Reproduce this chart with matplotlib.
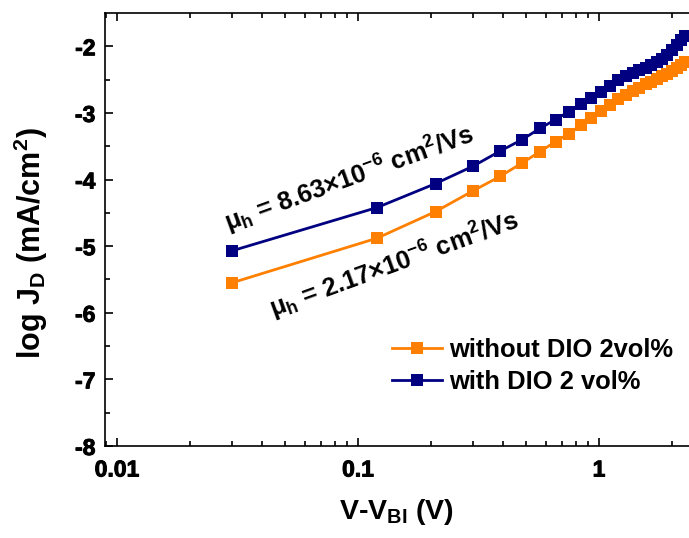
import numpy as np
import matplotlib
matplotlib.use("Agg")
import matplotlib.pyplot as plt
import matplotlib.patheffects as pe

# ---- data ----
voltage = [0.03, 0.12, 0.21, 0.30, 0.39, 0.48, 0.57, 0.66, 0.75, 0.84, 0.93,
           1.02, 1.11, 1.20, 1.29, 1.38, 1.47, 1.56, 1.65, 1.74, 1.83, 1.92,
           2.01, 2.10, 2.19, 2.28]
logj_without = [-5.55, -4.88, -4.48, -4.17, -3.95, -3.75, -3.58, -3.43, -3.31,
                -3.18, -3.07, -2.97, -2.88, -2.79, -2.73, -2.67, -2.62, -2.57,
                -2.53, -2.49, -2.45, -2.41, -2.37, -2.32, -2.28, -2.24]
logj_with = [-5.07, -4.42, -4.06, -3.80, -3.57, -3.40, -3.23, -3.10, -2.98,
             -2.87, -2.78, -2.69, -2.60, -2.51, -2.45, -2.40, -2.36, -2.32,
             -2.28, -2.24, -2.19, -2.13, -2.06, -1.98, -1.91, -1.85]
series_labels = ["without DIO 2vol%", "with DIO 2 vol%"]
annot_with = "μ$_\\mathrm{h}$ = 8.63×10$^\\mathrm{-6}$ cm$^\\mathrm{2}$/Vs"
annot_without = "μ$_\\mathrm{h}$ = 2.17×10$^\\mathrm{-6}$ cm$^\\mathrm{2}$/Vs"
yticks = [-8, -7, -6, -5, -4, -3, -2]
xticks = [0.01, 0.1, 1]
xtick_labels = ["0.01", "0.1", "1"]

plt.rcParams['font.family'] = ['Liberation Sans', 'DejaVu Sans']
plt.rcParams['font.weight'] = 'bold'
plt.rcParams['axes.unicode_minus'] = False
plt.rcParams['mathtext.fontset'] = 'custom'
plt.rcParams['mathtext.rm'] = 'Liberation Sans:bold'
plt.rcParams['mathtext.it'] = 'Liberation Sans:bold:italic'
plt.rcParams['mathtext.bf'] = 'Liberation Sans:bold'

c_orange = '#FF8000'
c_navy = '#000080'
thick = [pe.withStroke(linewidth=0.7, foreground='black')]

W, H = 689, 538
fig = plt.figure(figsize=(W / 100, H / 100), dpi=100)
ax_l, ax_b, ax_t = 105, 446, 13
ax = fig.add_axes([ax_l / W, 1 - ax_b / H, 1 - ax_l / W, (ax_b - ax_t) / H])

for x, y, color, label in [(voltage, logj_without, c_orange, series_labels[0]),
                           (voltage, logj_with, c_navy, series_labels[1])]:
    ax.plot(x, y, color=color, lw=2.0, marker='s', markersize=9,
            markeredgewidth=0, label=label, zorder=3)

ax.set_xscale('log')
ax.set_xlim(10 ** ((ax_l - 117) / 241 - 2), 10 ** ((W - 599) / 241))
ax.set_ylim(-8, -1.5)
ax.set_xticks(xticks)
ax.set_xticklabels(xtick_labels)
ax.set_yticks(yticks)
ax.set_yticks(np.arange(-7.5, -1.5, 1.0), minor=True)
ax.xaxis.set_minor_locator(matplotlib.ticker.LogLocator(base=10, subs=np.arange(2, 10)))
ax.xaxis.set_minor_formatter(matplotlib.ticker.NullFormatter())

for s in ['left', 'bottom', 'top']:
    ax.spines[s].set_linewidth(1.2)
ax.spines['right'].set_visible(False)
ax.tick_params(which='both', direction='in', top=True, right=False, width=1.2)
ax.tick_params(which='major', length=6, labelsize=16.5)
ax.tick_params(axis='y', which='major', pad=7)
ax.tick_params(axis='x', which='major', pad=9)
ax.tick_params(which='minor', length=3.5)
for lab in ax.get_xticklabels() + ax.get_yticklabels():
    lab.set_fontweight('bold')
    lab.set_path_effects(thick)

ax.set_xlabel("V-V$_\\mathrm{BI}$ (V)", fontsize=20.5, fontweight='bold')
ax.set_ylabel("log J$_\\mathrm{D}$ (mA/cm$^\\mathrm{2}$)", fontsize=22, fontweight='bold')
ax.xaxis.set_label_coords(0.5, (ax_b - 497) / (ax_b - ax_t))
ax.yaxis.set_label_coords((50 - ax_l) / (W - ax_l), (ax_b - 243) / (ax_b - ax_t))

fig.text(349 / W, 1 - 179 / H, annot_with, fontsize=18.3, fontweight='bold',
         rotation=20, ha='center', va='center', rotation_mode='anchor')
fig.text(394 / W, 1 - 265 / H, annot_without, fontsize=18.3, fontweight='bold',
         rotation=20, ha='center', va='center', rotation_mode='anchor')

leg = ax.legend(loc='upper left', bbox_to_anchor=(392 / W, 1 - 338 / H),
                bbox_transform=fig.transFigure, frameon=False, fontsize=18.4,
                handlelength=1.95, handletextpad=0.28, labelspacing=0.3,
                borderaxespad=0, borderpad=0)
for t in leg.get_texts():
    t.set_fontweight('bold')

fig.savefig('out.png', dpi=100)
